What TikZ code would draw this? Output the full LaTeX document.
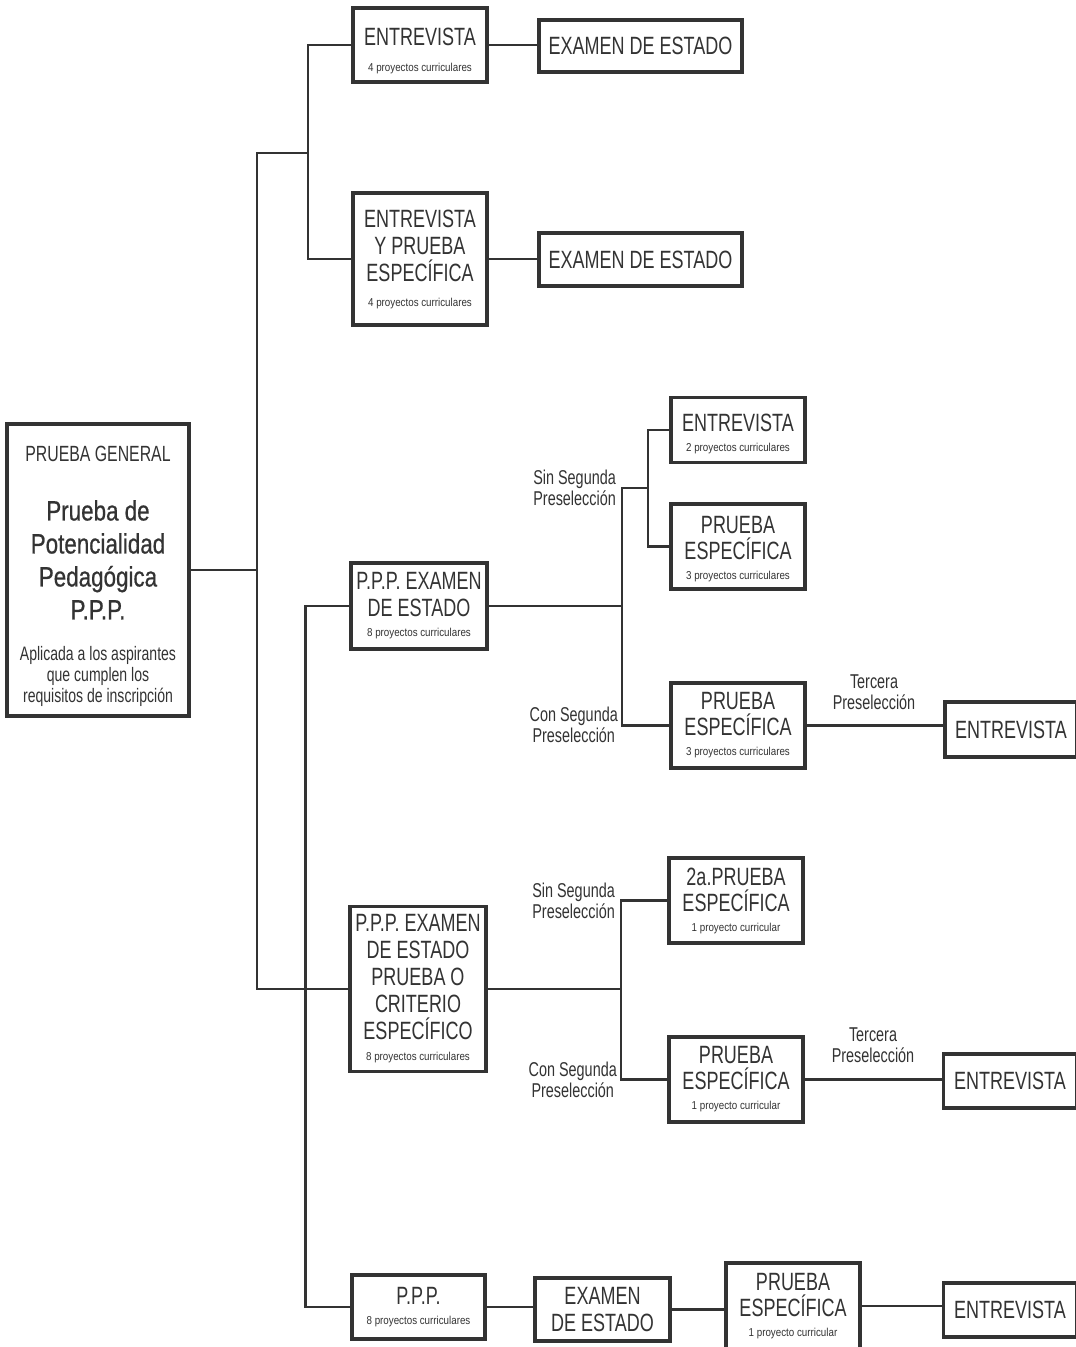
\documentclass[tikz,border=0pt]{standalone}
\usepackage{fontspec}
\setmainfont{Liberation Sans}[FakeStretch=0.72]
\newfontfamily\grande{Liberation Sans}[FakeStretch=0.8,FakeBold=0.6]
\newfontfamily\nota{Liberation Sans}[FakeStretch=0.85]
\definecolor{tinta}{HTML}{333333}
\newcommand{\curric}[1]{{\nota\fontsize{11.5}{13}\selectfont #1}}

\begin{document}
\begin{tikzpicture}[x=1pt,y=-1pt,
  caja/.style={draw=tinta,line width=3.2pt,text=tinta,align=center,inner sep=0pt,
    font=\fontsize{25}{27}\selectfont},
  enlace/.style={draw=tinta,line width=2.4pt},
  rotulo/.style={text=tinta,align=center,inner sep=1pt,font=\fontsize{20}{21}\selectfont}]
\path[use as bounding box,fill=white] (0,0) rectangle (1076,1347);
\clip (0,0) rectangle (1076,1347);

% prueba general
\node[caja,minimum width=182pt,minimum height=292pt] (general) at (98,570) {%
  \rule{0pt}{28pt}{\fontsize{22}{24}\selectfont PRUEBA GENERAL}\\[32pt]
  {\grande\fontsize{28}{30}\selectfont Prueba de}\\[6pt]
  {\grande\fontsize{28}{30}\selectfont Potencialidad}\\[6pt]
  {\grande\fontsize{28}{30}\selectfont Pedagógica}\\[6pt]
  {\grande\fontsize{28}{30}\selectfont P.P.P.}\\[14pt]
  {\fontsize{19.5}{21}\selectfont Aplicada a los aspirantes}\\[-6pt]
  {\fontsize{19.5}{21}\selectfont que cumplen los}\\[-6pt]
  {\fontsize{19.5}{21}\selectfont requisitos de inscripción}};

% rama superior
\node[caja,minimum width=134pt,minimum height=74pt] (entrevistaA) at (420,45)
  {\rule{0pt}{30pt}ENTREVISTA\\[-1pt]\curric{4 proyectos curriculares}};
\node[caja,minimum width=203pt,minimum height=52pt] (examenA) at (640.5,46) {EXAMEN DE ESTADO};
\node[caja,minimum width=134pt,minimum height=132pt] (entrevistaB) at (420,259)
  {ENTREVISTA\\Y PRUEBA\\ESPECÍFICA\\[-2pt]\curric{4 proyectos curriculares}};
\node[caja,minimum width=203pt,minimum height=53pt] (examenB) at (640.5,259.5) {EXAMEN DE ESTADO};

% rama media
\node[caja,minimum width=136pt,minimum height=86pt] (ppeA) at (419,606)
  {P.P.P. EXAMEN\\DE ESTADO\\[-7pt]\curric{8 proyectos curriculares}};
\node[caja,minimum width=134pt,minimum height=65pt] (entrevistaC) at (738,430)
  {\rule{0pt}{26pt}ENTREVISTA\\[-7pt]\curric{2 proyectos curriculares}};
\node[caja,minimum width=134pt,minimum height=85pt] (especificaA) at (738,546.5)
  {\rule{0pt}{22pt}PRUEBA\\[-1pt]ESPECÍFICA\\[-7pt]\curric{3 proyectos curriculares}};
\node[caja,minimum width=134pt,minimum height=85pt] (especificaB) at (738,725.5)
  {PRUEBA\\[-1pt]ESPECÍFICA\\[-7pt]\curric{3 proyectos curriculares}};
\node[caja,minimum width=132pt,minimum height=55pt] (entrevistaD) at (1011,729.5) {ENTREVISTA};

\node[rotulo,anchor=east] (sinA) at (617,488) {Sin Segunda\\Preselección};
\node[rotulo,anchor=east] (conA) at (619,725) {Con Segunda\\Preselección};
\node[rotulo] (terceraA) at (874,692) {Tercera\\Preselección};

% rama criterio
\node[caja,minimum width=136pt,minimum height=165pt] (ppeB) at (418,989)
  {P.P.P. EXAMEN\\DE ESTADO\\PRUEBA O\\CRITERIO\\ESPECÍFICO\\[-6pt]\curric{8 proyectos curriculares}};
\node[caja,minimum width=134pt,minimum height=85pt] (especificaC) at (736,900.5)
  {2a.PRUEBA\\[-1pt]ESPECÍFICA\\[-7pt]\curric{1 proyecto curricular}};
\node[caja,minimum width=134pt,minimum height=85pt] (especificaD) at (736,1079.5)
  {PRUEBA\\[-1pt]ESPECÍFICA\\[-7pt]\curric{1 proyecto curricular}};
\node[caja,minimum width=133pt,minimum height=54pt] (entrevistaE) at (1010,1081) {ENTREVISTA};

\node[rotulo,anchor=east] (sinB) at (616,901) {Sin Segunda\\Preselección};
\node[rotulo,anchor=east] (conB) at (618,1080) {Con Segunda\\Preselección};
\node[rotulo] (terceraB) at (873,1045) {Tercera\\Preselección};

% fila inferior
\node[caja,minimum width=133pt,minimum height=64pt] (pppC) at (418.5,1307)
  {P.P.P.\\[-7pt]\curric{8 proyectos curriculares}};
\node[caja,minimum width=135pt,minimum height=63pt] (examenC) at (602.5,1309.5) {EXAMEN\\DE ESTADO};
\node[caja,minimum width=134pt,minimum height=86pt] (especificaE) at (793,1306)
  {PRUEBA\\[-1pt]ESPECÍFICA\\[-7pt]\curric{1 proyecto curricular}};
\node[caja,minimum width=133pt,minimum height=54pt] (entrevistaF) at (1010,1310) {ENTREVISTA};

% enlaces
\coordinate (troncoA) at (257,153);
\coordinate (troncoB) at (257,989);
\coordinate (ramaA) at (308,153);
\coordinate (nudoA) at (622,606);
\coordinate (nudoB) at (648,488);
\coordinate (nudoC) at (621,989);

\draw[enlace] (general.east) -- (general.east -| troncoA);
\draw[enlace] (ramaA) -- (troncoA) -- (troncoB) -- (ppeB.west);
\draw[enlace] (entrevistaA.west) -| (ramaA) |- (entrevistaB.west);
\draw[enlace] (entrevistaA.east) -- (entrevistaA.east -| examenA.west);
\draw[enlace] (entrevistaB.east) -- (entrevistaB.east -| examenB.west);
\draw[enlace] (ppeA.west) -- ++(-44,0) |- (pppC.west);

\draw[enlace] (ppeA.east) -- (nudoA);
\draw[enlace] (nudoB) -| (nudoA) |- (especificaB.west);
\draw[enlace] (entrevistaC.west) -| (nudoB) |- (especificaA.west);
\draw[enlace] (especificaB.east) -- (especificaB.east -| entrevistaD.west);

\draw[enlace] (ppeB.east) -- (nudoC);
\draw[enlace] (especificaC.west) -| (nudoC) |- (especificaD.west);
\draw[enlace] (especificaD.east) -- (especificaD.east -| entrevistaE.west);

\draw[enlace] (pppC.east) -- (pppC.east -| examenC.west);
\draw[enlace] (examenC.east) -- (examenC.east -| especificaE.west);
\draw[enlace] (especificaE.east) -- (especificaE.east -| entrevistaF.west);
\end{tikzpicture}
\end{document}
